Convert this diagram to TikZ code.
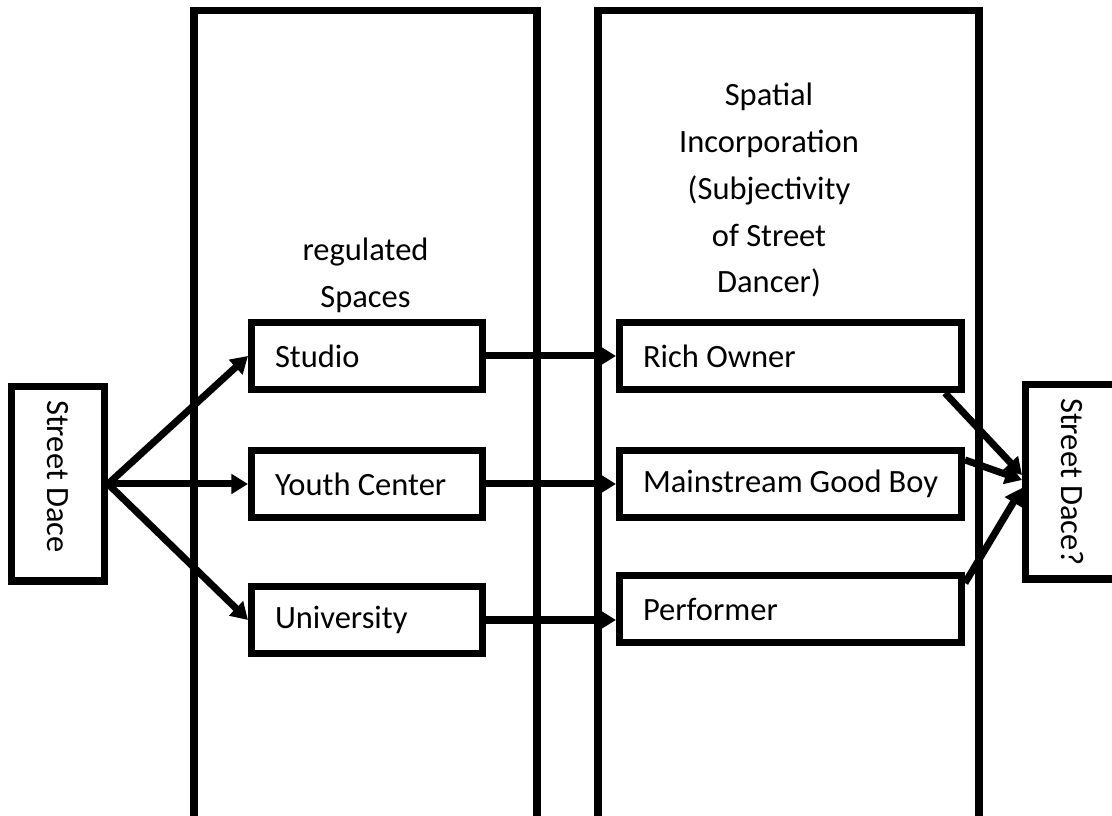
\documentclass[tikz,border=0pt]{standalone}
\usepackage{fontspec}
\setmainfont{Carlito}
\usepackage{graphicx}
\usetikzlibrary{arrows.meta}

\begin{document}
\begin{tikzpicture}[
  line width=4pt,
  txt/.style={font=\fontsize{18.5}{26.6}\selectfont},
  spacebox/.style={draw, txt, minimum height=1.34cm, inner xsep=0.47cm, align=flush left},
  dacebox/.style={draw, txt, minimum width=1.86cm, minimum height=3.88cm, inner sep=0pt},
  arr/.style={-{Triangle[length=9.5pt,width=11pt]}}
]
  \useasboundingbox (0,0) rectangle (22.24,16.32);
  \clip (0,0) rectangle (22.24,16.32);
  \draw (3.88,-0.5) -- (3.88,16.10) -- (10.74,16.10) -- (10.74,-0.5);
  \draw (11.96,-0.5) -- (11.96,16.10) -- (19.58,16.10) -- (19.58,-0.5);
  \node[txt, align=flush center, anchor=south, inner sep=0pt] (regulated) at (7.31,10.0) {regulated\\Spaces};
  \node[txt, align=flush center, anchor=south, inner sep=0pt] (spatial) at (15.38,10.3) {Spatial\\Incorporation\\(Subjectivity\\of Street\\Dancer)};
  \node[dacebox] (dace) at (1.16,6.64) {\rotatebox{-90}{Street Dace\hspace{0.3cm}}};
  \node[dacebox] (dace2) at (21.44,6.68) {\rotatebox{-90}{Street Dace?}};
  \node[spacebox, text width=3.68cm] (studio) at (7.34,9.20) {Studio};
  \node[spacebox, text width=3.68cm] (youth) at (7.34,6.64) {Youth Center};
  \node[spacebox, text width=3.68cm] (univ) at (7.34,3.92) {University};
  \node[spacebox, text width=5.9cm] (rich) at (15.81,9.20) {Rich Owner};
  \node[spacebox, text width=5.9cm] (good) at (15.81,6.64) {Mainstream Good Boy};
  \node[spacebox, text width=5.9cm] (perf) at (15.81,4.14) {Performer};
  \draw[arr] (dace.east) -- (studio.west);
  \draw[arr] (dace.east) -- (youth.west);
  \draw[arr] (dace.east) -- (univ.west);
  \draw[arr] (studio) -- (rich);
  \draw[arr] (youth) -- (good);
  \draw[arr] (univ.east) -- (univ.east -| perf.west);
  \draw[arr] ([xshift=-0.4cm]rich.south east) -- ([yshift=0.14cm]dace2.west);
  \draw[arr] ([yshift=-0.26cm]good.north east) -- ([yshift=0.04cm]dace2.west);
  \draw[arr] ([yshift=-0.22cm]perf.north east) -- ([yshift=-0.12cm]dace2.west);
\end{tikzpicture}
\end{document}
